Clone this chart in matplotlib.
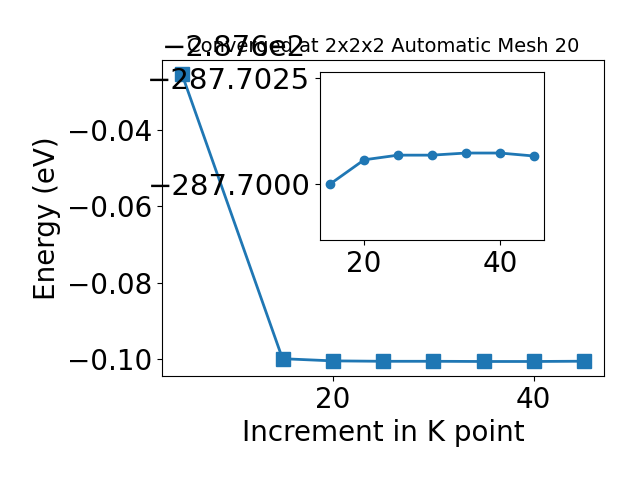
import matplotlib
matplotlib.use("Agg")
import matplotlib.pyplot as plt
from matplotlib.ticker import MultipleLocator

kpoints = [5, 15, 20, 25, 30, 35, 40, 45]
energy = [-287.6253, -287.7000, -287.70057, -287.70068, -287.70068, -287.70073, -287.70073, -287.70066]
inset_k = kpoints[1:]
inset_e = energy[1:]

fig = plt.figure(figsize=(6.4, 4.8), dpi=100)
ax = fig.add_axes([0.253, 0.217, 0.691, 0.658])
ax.plot(kpoints, energy, marker='s', markersize=10, linewidth=2, color='#1f77b4')
ax.set_xlabel('Increment in K point', fontsize=20)
ax.set_ylabel('Energy (eV)', fontsize=20)
ax.tick_params(labelsize=20)
ax.xaxis.set_major_locator(MultipleLocator(20))
ax.yaxis.get_offset_text().set_fontsize(21)
ax.set_title('Converged at 2x2x2 Automatic Mesh 20', fontsize=14, y=1.0)

ins = fig.add_axes([0.5, 0.5, 0.35, 0.35])
ins.plot(inset_k, inset_e, marker='o', markersize=6, linewidth=2, color='#1f77b4')
ins.set_ylim(-287.69868, -287.70264)
ins.ticklabel_format(axis='y', useOffset=False)
ins.yaxis.set_major_locator(MultipleLocator(0.0025))
ins.xaxis.set_major_locator(MultipleLocator(20))
ins.tick_params(axis='x', labelsize=20)
ins.tick_params(axis='y', labelsize=21)

fig.savefig('out.png', dpi=100)
